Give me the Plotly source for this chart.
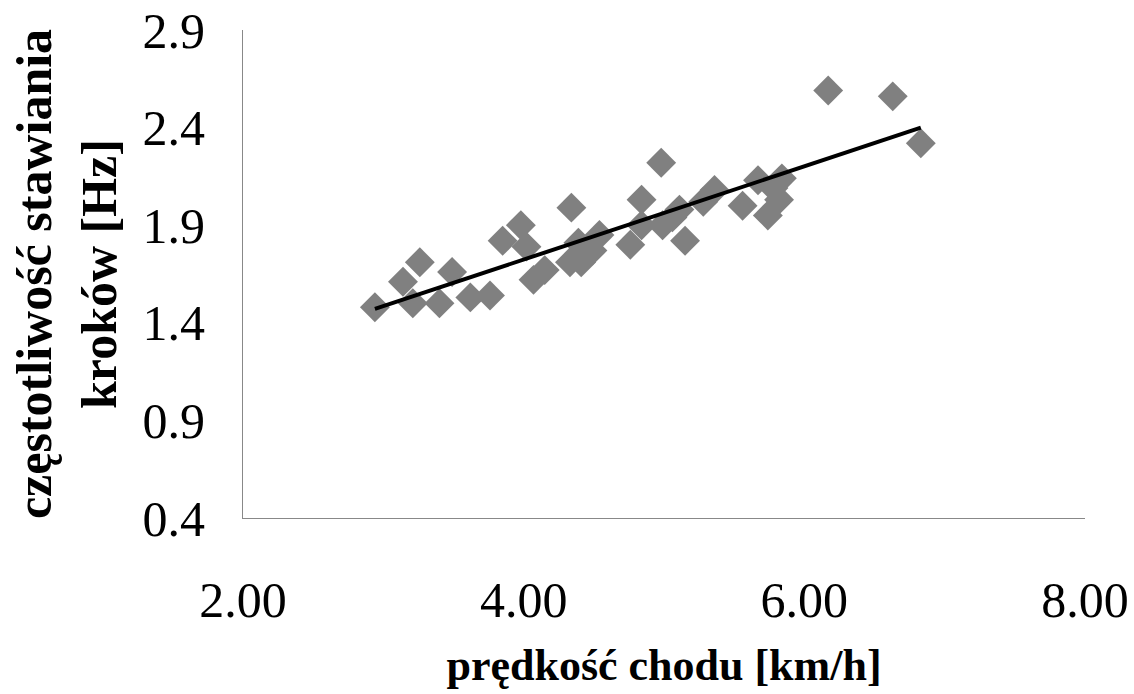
import numpy as np
import plotly.graph_objects as go

# walking speed [km/h]
speed = [2.94, 3.14, 3.21, 3.26, 3.40, 3.49, 3.62, 3.76, 3.85, 3.98, 4.02, 4.07, 4.15,
         4.34, 4.33, 4.39, 4.41, 4.49, 4.54, 4.76, 4.84, 4.84, 4.98, 4.99, 5.06, 5.11,
         5.15, 5.28, 5.36, 5.56, 5.67, 5.74, 5.78, 5.82, 5.84, 6.17, 6.63, 6.83]
# step frequency [Hz]
freq = [1.48, 1.61, 1.50, 1.71, 1.50, 1.66, 1.53, 1.54, 1.82, 1.90, 1.79, 1.62, 1.67,
        1.99, 1.71, 1.81, 1.71, 1.77, 1.85, 1.80, 2.03, 1.90, 2.22, 1.90, 1.94, 1.98,
        1.82, 2.02, 2.08, 2.00, 2.13, 1.95, 2.09, 2.03, 2.14, 2.59, 2.56, 2.32]

x_ticks = [2, 4, 6, 8]
x_tick_labels = ["2.00", "4.00", "6.00", "8.00"]
y_ticks = [0.4, 0.9, 1.4, 1.9, 2.4, 2.9]
y_tick_labels = ["0.4", "0.9", "1.4", "1.9", "2.4", "2.9"]

slope, intercept = np.polyfit(speed, freq, 1)
fit_x = [min(speed), max(speed)]
fit_y = [slope * v + intercept for v in fit_x]

fig = go.Figure()
fig.add_trace(go.Scatter(x=speed, y=freq, mode="markers",
                         marker=dict(symbol="diamond", size=23, color="#808080",
                                     line=dict(width=0)),
                         showlegend=False))
fig.add_trace(go.Scatter(x=fit_x, y=fit_y, mode="lines",
                         line=dict(color="black", width=4), showlegend=False))

font_family = "Liberation Serif, Times New Roman, serif"
fig.update_layout(
    width=1134, height=694,
    margin=dict(l=243, r=49, t=30, b=176),
    paper_bgcolor="white", plot_bgcolor="white",
    font=dict(family=font_family, color="black"),
    xaxis=dict(range=[2, 8], tickvals=x_ticks, ticktext=x_tick_labels,
               showgrid=False, zeroline=False, showline=True, linecolor="#888888",
               linewidth=1, ticks="", tickfont=dict(size=50), ticklabelstandoff=38,
               automargin=False, ticklabeloverflow="allow",
               title=dict(text="<b>prędkość chodu [km/h]</b>", font=dict(size=44),
                          standoff=22)),
    yaxis=dict(range=[0.4, 2.9], tickvals=y_ticks, ticktext=y_tick_labels,
               showgrid=False, zeroline=False, showline=True, linecolor="#888888",
               linewidth=1, ticks="", tickfont=dict(size=50), ticklabelstandoff=27,
               automargin=False, ticklabeloverflow="allow",
               title=dict(text="<b>częstotliwość stawiania<br>kroków [Hz]</b>",
                          font=dict(size=50), standoff=10)),
)

fig.write_html("out.html", config={"displayModeBar": False},
               post_script="document.body.style.margin='0';document.body.style.overflow='hidden';")
